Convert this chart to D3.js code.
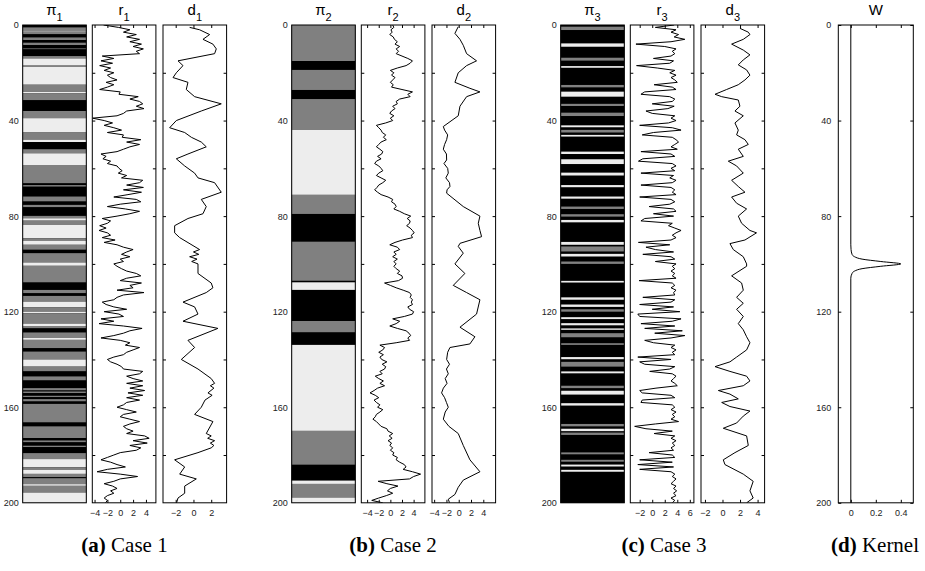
<!DOCTYPE html>
<html><head><meta charset="utf-8">
<script src="https://cdn.jsdelivr.net/npm/d3@7"></script>
<style>body{margin:0;background:#fff}svg{display:block}</style>
</head><body>
<svg id="fig" width="925" height="571"></svg>
<script>
// ---- data -------------------------------------------------------------
// depth index shared by the reflectivity series (one value per level)
const depth = d3.range(0, 201);

// facies segments: [top, bottom, class]  0 = black, 1 = gray, 2 = light
const pi1 = [[0,1,0],[1,2.4,1],[2.4,2.8,2],[2.8,3.9,1],[3.9,5.2,0],[5.2,6.3,1],[6.3,7.4,0],[7.4,8.4,1],[8.4,9.8,0],[9.8,10.2,1],[10.2,13,0],[13,14,1],[14,17,2],[17,17.5,1],[17.5,25,2],[25,28,1],[28,28.5,2],[28.5,31.5,1],[31.5,36,0],[36,39,1],[39,45,2],[45,48,1],[48,49,2],[49,52,0],[52,53.7,1],[53.7,58.6,2],[58.6,66.3,1],[66.3,67,0],[67,67.7,1],[67.7,71.8,0],[71.8,73.9,1],[73.9,75.3,0],[75.3,76.3,1],[76.3,79.9,0],[79.9,80.9,1],[80.9,81.9,2],[81.9,83.7,1],[83.7,89.3,2],[89.3,90.3,1],[90.3,92,2],[92,94.1,1],[94.1,95.5,0],[95.5,99.4,1],[99.4,100.8,2],[100.8,107.8,1],[107.8,110.9,0],[110.9,112.3,1],[112.3,113.4,0],[113.4,115.8,1],[115.8,118.2,2],[118.2,120,1],[120,120.7,2],[120.7,125,1],[125,126,2],[126,127,1],[127,128.7,0],[128.7,131,1],[131,131.8,2],[131.8,135.3,1],[135.3,136.7,0],[136.7,140,1],[140,143,2],[143,145,1],[145,147.1,0],[147.1,148.8,1],[148.8,152,0],[152,153,1],[153,153.4,0],[153.4,154.1,1],[154.1,155.2,0],[155.2,155.8,1],[155.8,156.6,0],[156.6,157.6,1],[157.6,158.6,0],[158.6,166.4,1],[166.4,168,0],[168,172.9,1],[172.9,173.9,0],[173.9,174.7,1],[174.7,176.1,0],[176.1,176.7,1],[176.7,179.2,0],[179.2,181.7,1],[181.7,185.1,2],[185.1,186.2,1],[186.2,187.9,2],[187.9,189.3,1],[189.3,189.7,0],[189.7,192.2,1],[192.2,192.9,2],[192.9,195.7,1],[195.7,200,2]];
const pi2 = [[0,15.1,1],[15.1,18.8,0],[18.8,27.2,1],[27.2,31,0],[31,43.9,1],[43.9,71.1,2],[71.1,79.1,1],[79.1,90.7,0],[90.7,107.1,1],[107.1,107.7,0],[107.7,110.9,2],[110.9,123.9,0],[123.9,128.7,1],[128.7,133.9,0],[133.9,169.9,2],[169.9,184.1,1],[184.1,190.7,0],[190.7,192.1,2],[192.1,197.8,1],[197.8,200,2]];
const pi3 = [[0,200,0],[0.7,2.1,1],[7.7,9.1,2],[13.7,14.9,1],[17.2,17.9,2],[25.1,26.1,1],[27.9,30,2],[33,33.9,1],[36.7,38.1,1],[42,42.8,2],[43.9,45,1],[46,46.7,2],[53,54,2],[56.2,58.2,2],[61.8,63,2],[67,67.9,2],[71.8,72.7,2],[76,77,1],[79.2,80.2,1],[81.6,82.6,2],[90.8,92,2],[92.7,94.8,1],[95.8,96.9,2],[99,100,1],[107.1,107.8,2],[114,115,2],[117,118,2],[119,120,1],[122.3,123.1,2],[124.8,125.7,2],[127,127.6,2],[129,130.7,1],[133.2,133.9,1],[139,139.9,2],[141,143,1],[145,145.8,2],[151,152,1],[153.1,154.7,2],[158.3,159.3,2],[167,168,1],[169,170,2],[170.6,171.6,1],[178.9,179.7,1],[182,182.8,1],[184,184.8,2],[186.2,187,2]];

// reflectivity, one value per depth level 0..200
const r1 = [-2.6,-0.3,1.5,0.5,2.5,1.0,3.0,1.5,3.3,2.0,
3.6,2.5,3.0,-2.8,-1.0,-3.0,-1.2,-3.2,-1.5,-2.5,
-1.0,-2.0,-1.5,-0.5,-2.2,-1.0,-2.0,-3.2,0.0,-0.2,
2.8,1.5,3.0,3.5,2.5,3.7,1.0,0.5,-0.5,-4.3,
-2.5,-1.2,-2.5,-1.0,0.2,-2.0,0.5,0.3,3.2,1.0,
3.0,1.5,0.5,-0.5,-3.0,-2.2,-2.7,-1.5,-2.0,-0.5,
-0.2,0.3,-0.3,1.0,0.2,3.5,3.0,1.0,3.6,0.5,
3.3,1.2,-1.0,2.5,3.2,0.0,-2.0,0.8,3.0,1.5,
-0.5,-2.8,-1.5,-2.0,-3.2,-2.2,-3.3,-2.0,-1.5,-2.8,
-0.8,-2.5,-0.5,0.5,2.0,1.0,0.2,1.5,0.0,0.5,
-1.0,-0.5,0.2,1.0,2.5,3.2,1.0,0.0,3.3,1.5,
2.0,-0.5,3.7,0.5,-0.5,-1.0,-2.8,-2.2,-1.0,1.0,
-2.5,-0.2,0.5,-3.0,-1.0,-3.3,0.5,3.4,1.5,0.5,
-1.0,-3.0,0.0,1.5,0.8,3.0,2.0,1.0,0.5,-1.0,
-2.0,-1.5,-0.5,0.2,0.5,3.5,3.0,1.0,2.0,3.5,
1.0,3.5,1.5,3.8,1.2,3.5,1.0,3.0,1.0,0.5,
-0.5,1.0,2.5,0.5,0.0,1.5,3.0,1.5,0.5,1.0,
2.0,1.0,3.8,4.5,2.0,4.2,1.5,3.2,2.5,0.0,
-1.0,-2.0,-3.0,-1.5,-0.5,0.8,-2.0,-3.6,0.0,2.7,
0.0,-1.0,-2.5,-1.2,-0.5,-1.5,-1.0,-2.0,-2.5,-2.0,
-2.3];
const r2 = [0.4,0.6,0.1,0.3,-0.1,0.5,0.7,1.2,0.8,1.6,
1.0,1.4,1.0,2.0,3.0,3.8,3.4,2.7,1.2,0.0,
0.6,0.2,0.8,0.4,0.0,0.5,0.2,2.0,3.8,3.0,
3.4,1.6,1.0,1.2,0.4,0.8,0.2,-0.1,0.6,0.0,
0.4,-0.8,-2.4,-2.0,-1.6,-1.4,-0.8,-1.2,-0.7,-1.6,
-2.0,-2.4,-1.8,-1.3,-1.5,-2.2,-1.6,-2.4,-2.7,-2.0,
-1.6,-1.3,-2.0,-2.4,-1.6,-0.8,-1.3,-2.0,-2.3,-2.7,
-2.2,-1.6,-0.4,0.4,0.2,0.8,1.0,0.6,1.6,2.4,
3.5,2.9,3.4,3.3,2.8,3.4,3.8,4.1,3.6,3.8,
2.1,0.8,-0.1,1.2,1.6,0.6,1.0,0.4,1.2,0.6,
1.0,0.6,1.0,1.6,1.2,2.0,2.1,1.4,-1.0,0.0,
1.0,2.2,3.3,3.6,3.4,3.8,3.6,3.8,3.0,3.3,
4.0,3.8,2.4,0.4,1.6,1.0,-0.1,1.2,2.7,3.2,
3.5,3.0,3.3,1.0,-1.8,-1.0,-1.3,-2.0,-1.2,-1.8,
-1.5,-0.6,-1.4,-0.8,-1.0,-1.8,-1.4,-2.6,-2.0,-1.2,
-1.8,-1.0,-2.2,-2.8,-3.5,-2.6,-2.0,-2.8,-2.4,-1.8,
-2.2,-1.3,-1.8,-2.4,-2.6,-3.0,-2.4,-2.0,-1.6,-0.6,
-0.4,0.4,-0.2,0.3,-0.4,0.2,-0.1,0.4,0.0,0.6,
0.4,1.2,1.0,1.6,2.4,2.7,2.2,3.8,5.2,4.0,
3.3,-2.1,-0.6,1.3,0.0,-0.5,0.4,-0.7,-2.0,-3.2,
-1.3];
const r3 = [3.5,0.5,3.8,3.0,4.2,3.5,5.2,3.0,-2.6,2.0,
3.8,3.2,3.6,3.0,0.2,3.4,2.8,-2.5,0.8,3.6,
2.8,3.8,3.0,3.6,4.0,0.3,3.2,3.8,-1.2,-1.8,
2.8,3.6,3.2,0.0,3.5,2.5,-1.0,0.0,3.6,3.0,
3.8,2.6,-2.0,3.2,4.6,0.2,-1.6,3.2,3.8,4.2,
3.6,3.0,4.0,-1.8,3.0,3.6,-1.5,-2.2,3.2,3.8,
3.0,3.6,-1.8,3.4,2.8,3.8,3.2,-1.8,3.0,3.6,
3.2,3.8,-2.0,3.0,3.6,2.8,-0.5,3.4,3.8,0.2,
3.4,-1.2,-1.8,3.2,2.6,3.6,4.6,3.8,3.2,3.8,
3.0,-2.2,2.8,-1.0,0.5,3.4,-1.5,3.0,3.6,0.5,
3.8,3.2,3.6,3.0,3.6,3.2,3.8,-2.1,3.2,3.6,
3.0,3.8,3.4,3.6,-1.5,3.6,3.0,-2.0,3.4,0.0,
4.4,-2.3,-2.0,4.6,3.2,-1.8,3.6,-1.2,4.8,0.4,
5.2,3.0,-1.2,0.2,3.6,3.0,3.8,3.2,3.6,-2.3,
3.0,-2.0,-1.2,3.6,2.8,-0.4,3.2,3.8,3.4,3.0,
3.6,4.0,0.6,-2.0,-1.6,3.0,3.6,-1.6,-1.8,3.2,
3.6,3.0,3.8,3.2,3.6,3.0,4.2,0.5,-2.8,-1.0,
3.2,0.3,3.6,3.0,3.8,3.2,3.6,3.0,3.4,-0.5,
3.2,3.6,-2.0,3.2,-2.3,3.4,-2.0,3.0,3.6,3.2,
3.8,3.4,3.0,3.8,3.4,3.9,3.4,3.8,3.0,3.6,
3.2];

// observed data traces: depth of each vertex and its value
const d1Depth = [1,2,4,6,8,10,12,15,17,20,22,24,27,30,33,36,40,43,45,47,49,51,54,56,59,62,64,66,70,73,76,79,81,84,87,89,94,95,96,97,98,99,100,104,108,110,112,116,118,121,124,127,132,135,140,144,148,150,151,152,154,155,157,160,163,166,171,172,173,174,175,176,177,179,182,185,188,190,193,196,198,200];
const d1 = [-0.43,0.69,1.82,1.07,2.19,2.57,2.38,-1.74,-1.18,-1.93,-2.30,-0.62,-0.81,0.13,3.13,0.88,-1.93,-2.68,-0.99,-0.24,0.88,1.44,-0.62,-1.93,-0.99,0.13,0.51,2.38,3.13,0.88,1.44,1.07,-0.62,-2.12,-2.12,-1.55,0.69,0.0,0.6,-0.43,0.4,-0.2,0.51,0.51,2.0,2.19,1.44,-1.18,0.13,0.51,-1.18,2.75,-0.62,0.13,-1.37,0.51,2.0,2.38,1.9,2.3,1.63,2.1,1.3,0.88,0.13,2.19,1.44,2.0,1.6,2.38,1.9,2.3,2.0,0.51,-2.12,-0.99,-1.55,0.32,-0.99,-0.99,-1.74,-1.9];
const d2Depth = [0.7,3.5,6,8.5,12,15,17,20,24,26.5,28,30,34,38,42.5,44,46,48,50,52,54,56.5,58,60,62,64,66,67.6,69,70.4,76,80,83,86,88.6,91.4,92.7,95.5,100,104,109,112,115,121,126.5,130.5,133.5,135,137,140,142,144,146,148,150,152,154,156,158,160,162,165,168,171,176,182,187,190.5,193.5,196.5,198.5,200];
const d2 = [-0.08,-0.62,0.2,0.74,1.28,2.9,1.28,-0.08,-0.62,1.82,3.45,1.28,0.2,-0.08,-2.51,-2.3,-1.8,-1.97,-2.3,-2.51,-2.0,-1.97,-2.4,-1.8,-1.7,-2.1,-1.5,-1.43,-1.9,-1.97,0.74,3.45,3.18,3.45,3.72,0.2,-0.08,0.74,-0.62,1.0,-0.89,1.28,3.45,2.9,0.2,2.63,1.82,-1.43,-1.8,-1.97,-1.5,-2.0,-1.7,-2.2,-1.9,-2.5,-2.79,-2.3,-2.0,-1.7,-2.2,-2.51,-1.6,-0.08,0.74,1.82,3.45,0.74,-0.08,-0.62,-1.7,-1.5];
const d3Depth = [1.4,3,4,6,8,10.5,12.5,14.6,16.7,18.8,21,23,25,27,29,30,31.4,34,36,38,41,44,46,48,50,52,55,57,59,62,65,67.6,70,72,74.6,77,80,83,86,87,90,91.5,94,97,100,101,105,108,111,114,116.5,119,122,125,127.6,130.5,133,136,139,141,143,145,147,149,151,153,154.5,156.5,158,159.7,161.6,163.7,166.6,168.8,172,176,179,182,184,188,191,195,198,200];
const d3v = [1.99,2.94,3.13,2.37,1.04,2.37,3.13,2.37,1.8,2.75,3.13,2.56,1.8,0.47,-0.85,-0.09,1.8,1.99,1.42,2.37,1.42,1.8,1.61,2.56,2.94,1.8,2.37,0.66,1.61,2.37,1.04,1.8,2.56,1.04,1.61,2.75,1.8,2.18,3.13,3.88,2.56,0.85,1.23,2.37,2.75,2.75,1.04,2.18,2.37,1.61,2.37,1.61,2.37,1.8,2.37,2.75,3.13,2.75,1.61,0.85,-0.85,0.85,2.75,3.13,2.37,-0.47,0.85,1.8,-0.09,0.85,3.13,2.37,1.61,0.09,2.75,2.94,1.42,0.09,0.28,2.37,3.5,3.13,3.5,2.75];

// kernel W against depth
const wDepth = [0,92,94,96,97,98,99,100,101,102,103,104,106,200];
const wVal = [0,0,0.002,0.01,0.03,0.09,0.24,0.4,0.24,0.09,0.03,0.01,0,0];

// axis limits and tick values
const rDomains = [[-4.35,5.55],[-5.0,5.94],[-3.5,6.65]];
const dDomains = [[-3.43,3.73],[-4.35,6.0],[-2.45,4.8]];
const rTicks = [[-4,-2,0,2,4],[-4,-2,0,2,4],[-2,0,2,4,6]];
const dTicks = [[-2,0,2],[-4,-2,0,2,4],[-2,0,2,4]];
const depthLabels = [0,40,80,120,160,200];
const depthMinor = [20,40,60,80,100,120,140,160,180];
const wTicks = [0,0.2,0.4];
const captions = [["(a)","Case 1"],["(b)","Case 2"],["(c)","Case 3"],["(d)","Kernel"]];
const subs = ["1","2","3"];

// ---- layout -----------------------------------------------------------
const TOP = 25, BOT = 502.8, PW = 63.6;
const caseLeft = [22.7, 291.7, 560.7];
const offR = 69.6, offD = 140.3;
const kernelLeft = 838.3, kernelW = 75;
const faciesColor = ["#000000", "#808080", "#ededed"];
const FONT = "'Liberation Sans', Arial, Helvetica, sans-serif";

const svg = d3.select("#fig");
const y = d3.scaleLinear().domain([0, 200]).range([TOP, BOT]);
const fmt = v => String(v).replace("-", "\u2212");

function title(cx, main, sub) {
  const t = svg.append("text").attr("x", cx).attr("y", 15)
    .attr("text-anchor", "middle").attr("font-family", FONT).attr("font-size", 15).attr("fill", "#000");
  t.append("tspan").text(main);
  if (sub) t.append("tspan").attr("font-size", 11).attr("dy", 6).text(sub);
}

function frame(x0, w) {
  svg.append("rect").attr("x", x0).attr("y", TOP).attr("width", w).attr("height", BOT - TOP)
    .attr("fill", "none").attr("stroke", "#000").attr("stroke-width", 1);
}

function styleAxis(g) {
  g.select(".domain").remove();
  g.selectAll(".tick line").attr("stroke", "#000");
  g.selectAll(".tick text").attr("font-family", FONT).attr("font-size", 9).attr("fill", "#222");
}

function depthLabelAxis(x0) {
  svg.append("g").attr("transform", `translate(${x0},0)`)
    .call(d3.axisLeft(y).tickValues(depthLabels).tickSize(0).tickPadding(4).tickFormat(fmt))
    .call(styleAxis);
}

function tracePanel(x0, domain, ticks, dep, vals) {
  const x = d3.scaleLinear().domain(domain).range([x0, x0 + PW]);
  const clipId = "c" + Math.round(x0);
  svg.append("clipPath").attr("id", clipId).append("rect")
    .attr("x", x0).attr("y", TOP).attr("width", PW).attr("height", BOT - TOP);
  const pts = dep.map((d, i) => [d, vals[i]]);
  svg.append("path").datum(pts)
    .attr("clip-path", `url(#${clipId})`)
    .attr("fill", "none").attr("stroke", "#000").attr("stroke-width", 1).attr("stroke-linejoin", "round")
    .attr("d", d3.line().x(p => x(p[1])).y(p => y(p[0])));
  // inward ticks on all four sides
  svg.append("g").attr("transform", `translate(0,${BOT})`)
    .call(d3.axisBottom(x).tickValues(ticks).tickSize(-3).tickPadding(7).tickFormat(fmt)).call(styleAxis);
  svg.append("g").attr("transform", `translate(0,${TOP})`)
    .call(d3.axisTop(x).tickValues(ticks).tickSize(-3).tickFormat("")).call(styleAxis);
  svg.append("g").attr("transform", `translate(${x0},0)`)
    .call(d3.axisLeft(y).tickValues(depthMinor).tickSize(-3).tickFormat("")).call(styleAxis);
  svg.append("g").attr("transform", `translate(${x0 + PW},0)`)
    .call(d3.axisRight(y).tickValues(depthMinor).tickSize(-3).tickFormat("")).call(styleAxis);
  frame(x0, PW);
  return x;
}

const faciesSets = [pi1, pi2, pi3];
const rSets = [r1, r2, r3];
const dSets = [[d1Depth, d1], [d2Depth, d2], [d3Depth, d3v]];

caseLeft.forEach((cx, i) => {
  // facies column
  svg.append("rect").attr("x", cx).attr("y", TOP).attr("width", PW).attr("height", BOT - TOP).attr("fill", "#000");
  svg.append("g").selectAll("rect").data(faciesSets[i]).join("rect")
    .attr("x", cx).attr("width", PW)
    .attr("y", s => y(s[0])).attr("height", s => y(s[1]) - y(s[0]))
    .attr("fill", s => faciesColor[s[2]]);
  frame(cx, PW);
  depthLabelAxis(cx);
  title(cx + PW / 2, "\u03c0", subs[i]);

  tracePanel(cx + offR, rDomains[i], rTicks[i], depth, rSets[i]);
  title(cx + offR + PW / 2, "r", subs[i]);

  tracePanel(cx + offD, dDomains[i], dTicks[i], dSets[i][0], dSets[i][1]);
  title(cx + offD + PW / 2, "d", subs[i]);
});

// kernel panel
(function () {
  const x = d3.scaleLinear().domain([-0.1, 0.5]).range([kernelLeft, kernelLeft + kernelW]);
  const pts = wDepth.map((d, i) => [d, wVal[i]]);
  svg.append("path").datum(pts).attr("fill", "none").attr("stroke", "#000").attr("stroke-width", 1)
    .attr("d", d3.line().curve(d3.curveMonotoneY).x(p => x(p[1])).y(p => y(p[0])));
  svg.append("g").attr("transform", `translate(0,${BOT})`)
    .call(d3.axisBottom(x).tickValues(wTicks).tickSize(-3).tickPadding(7).tickFormat(fmt)).call(styleAxis);
  svg.append("g").attr("transform", `translate(0,${TOP})`)
    .call(d3.axisTop(x).tickValues(wTicks).tickSize(-3).tickFormat("")).call(styleAxis);
  svg.append("g").attr("transform", `translate(${kernelLeft},0)`)
    .call(d3.axisLeft(y).tickValues(depthLabels).tickSize(-3).tickPadding(7).tickFormat(fmt)).call(styleAxis);
  svg.append("g").attr("transform", `translate(${kernelLeft + kernelW},0)`)
    .call(d3.axisRight(y).tickValues(depthLabels).tickSize(-3).tickFormat("")).call(styleAxis);
  frame(kernelLeft, kernelW);
  title(kernelLeft + kernelW / 2, "W", null);
})();

// sub-figure captions
const capX = [124.5, 393, 664, 875];
captions.forEach((c, i) => {
  const t = svg.append("text").attr("x", capX[i]).attr("y", 552).attr("text-anchor", "middle")
    .attr("font-family", "'Liberation Serif', 'DejaVu Serif', serif").attr("font-size", 21).attr("fill", "#000");
  t.append("tspan").attr("font-weight", "bold").text(c[0]);
  t.append("tspan").text(" " + c[1]);
});
</script>
</body></html>
